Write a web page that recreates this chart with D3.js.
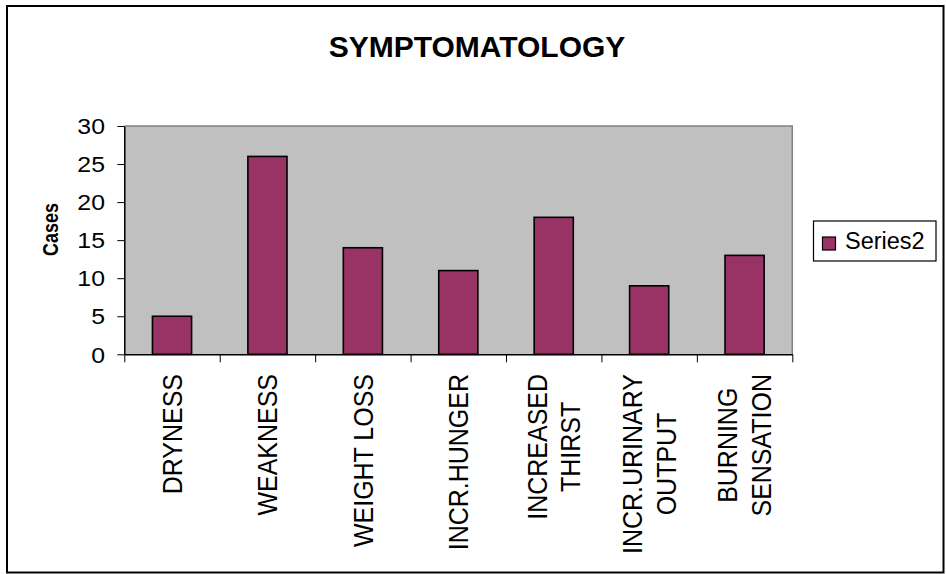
<!DOCTYPE html>
<html>
<head>
<meta charset="utf-8">
<script src="https://cdn.jsdelivr.net/npm/d3@7"></script>
<style>
  html, body { margin: 0; padding: 0; background: #ffffff; }
  svg { display: block; font-family: Arial, "Liberation Sans", sans-serif; }
</style>
</head>
<body>
<svg id="chart" width="946" height="574"></svg>
<script>
// Symptom categories (multi-line labels split into lines)
const categories = [
  ["DRYNESS"],
  ["WEAKNESS"],
  ["WEIGHT LOSS"],
  ["INCR.HUNGER"],
  ["INCREASED", "THIRST"],
  ["INCR.URINARY", "OUTPUT"],
  ["BURNING", "SENSATION"]
];
const series2 = [5, 26, 14, 11, 18, 9, 13];
const yTicks = [0, 5, 10, 15, 20, 25, 30];
const seriesName = "Series2";
const chartTitle = "SYMPTOMATOLOGY";
const yTitle = "Cases";

const svg = d3.select("#chart");

// Outer chart frame
svg.append("rect")
  .attr("x", 7).attr("y", 6)
  .attr("width", 936.5).attr("height", 566.5)
  .attr("fill", "#ffffff")
  .attr("stroke", "#000").attr("stroke-width", 2);

// Plot area geometry
const plot = { left: 124.3, right: 792.3, top: 126, bottom: 354.3 };

const x = d3.scaleBand()
  .domain(categories.map((d, i) => i))
  .range([plot.left, plot.right])
  .paddingInner(0.59)
  .paddingOuter(0.295);

const y = d3.scaleLinear()
  .domain([0, 30])
  .range([plot.bottom, plot.top]);

// Category boundary positions for x tick marks
const boundary = d3.scaleLinear()
  .domain([0, categories.length])
  .range([plot.left, plot.right]);

// Grey plot background with grey top/right edges
svg.append("rect")
  .attr("x", plot.left).attr("y", plot.top)
  .attr("width", plot.right - plot.left)
  .attr("height", plot.bottom - plot.top)
  .attr("fill", "#c0c0c0");
svg.append("path")
  .attr("d", `M${plot.left},${plot.top}H${plot.right}V${plot.bottom}`)
  .attr("fill", "none")
  .attr("stroke", "#808080").attr("stroke-width", 1.5);

// Bars
svg.append("g").selectAll("rect")
  .data(series2)
  .join("rect")
  .attr("x", (d, i) => x(i))
  .attr("y", d => y(d))
  .attr("width", x.bandwidth())
  .attr("height", d => y(0) - y(d))
  .attr("fill", "#993366")
  .attr("stroke", "#000")
  .attr("stroke-width", 1.6);

// Y axis
const yAxis = svg.append("g")
  .attr("transform", `translate(${plot.left},0)`)
  .call(d3.axisLeft(y).tickValues(yTicks).tickSize(7).tickSizeOuter(0));
yAxis.select(".domain").attr("stroke", "#000").attr("stroke-width", 1.5);
yAxis.selectAll(".tick line").attr("stroke", "#000").attr("stroke-width", 1);
yAxis.selectAll(".tick text")
  .attr("x", 0)
  .attr("dy", "0.35em")
  .attr("text-anchor", "end")
  .attr("font-size", 22)
  .attr("fill", "#000")
  .attr("font-family", "Arial, 'Liberation Sans', sans-serif")
  .attr("transform", "translate(-19.3,0) scale(1.13,1)");

// X axis baseline and category boundary ticks
const xAxis = svg.append("g")
  .attr("transform", `translate(0,${plot.bottom})`)
  .call(d3.axisBottom(boundary).tickValues(d3.range(categories.length + 1)).tickSize(8).tickFormat("").tickSizeOuter(0));
xAxis.select(".domain").attr("stroke", "#000").attr("stroke-width", 1.5);
xAxis.selectAll(".tick line").attr("stroke", "#000").attr("stroke-width", 1);

// Rotated category labels
const lineStep = 31.2;
const labelG = svg.append("g");
categories.forEach((lines, i) => {
  const cx = x(i) + x.bandwidth() / 2;
  const g = labelG.append("g")
    .attr("transform", `translate(${cx},374) rotate(-90) scale(1,1.08)`);
  const n = lines.length;
  const t = g.append("text")
    .attr("font-size", 25)
    .attr("fill", "#000");
  lines.forEach((ln, k) => {
    t.append("tspan")
      .attr("y", (k - (n - 1) / 2) * lineStep + 9)
      .text(ln);
  });
  // centre lines on the widest, with the block ending at the top anchor
  const spans = t.selectAll("tspan").nodes();
  const widths = spans.map(s => s.getComputedTextLength());
  const maxW = d3.max(widths);
  spans.forEach((s, k) => {
    d3.select(s).attr("x", -maxW + (maxW - widths[k]) / 2);
  });
});

// Y axis title
svg.append("text")
  .attr("transform", "translate(57.5,229.5) rotate(-90) scale(1,1.22)")
  .attr("text-anchor", "middle")
  .attr("font-size", 18)
  .attr("font-weight", "bold")
  .attr("fill", "#000")
  .text(yTitle);

// Chart title
svg.append("text")
  .attr("x", 477).attr("y", 56.7)
  .attr("text-anchor", "middle")
  .attr("font-size", 30)
  .attr("font-weight", "bold")
  .attr("fill", "#000")
  .text(chartTitle);

// Legend
const legend = svg.append("g");
legend.append("rect")
  .attr("x", 813.5).attr("y", 221)
  .attr("width", 122.5).attr("height", 40)
  .attr("fill", "#fff")
  .attr("stroke", "#000").attr("stroke-width", 1.2);
legend.append("rect")
  .attr("x", 822.5).attr("y", 237)
  .attr("width", 13).attr("height", 13)
  .attr("fill", "#993366")
  .attr("stroke", "#000").attr("stroke-width", 1.2);
legend.append("text")
  .attr("x", 845).attr("y", 249.3)
  .attr("font-size", 23.5)
  .attr("fill", "#000")
  .text(seriesName);
</script>
</body>
</html>
